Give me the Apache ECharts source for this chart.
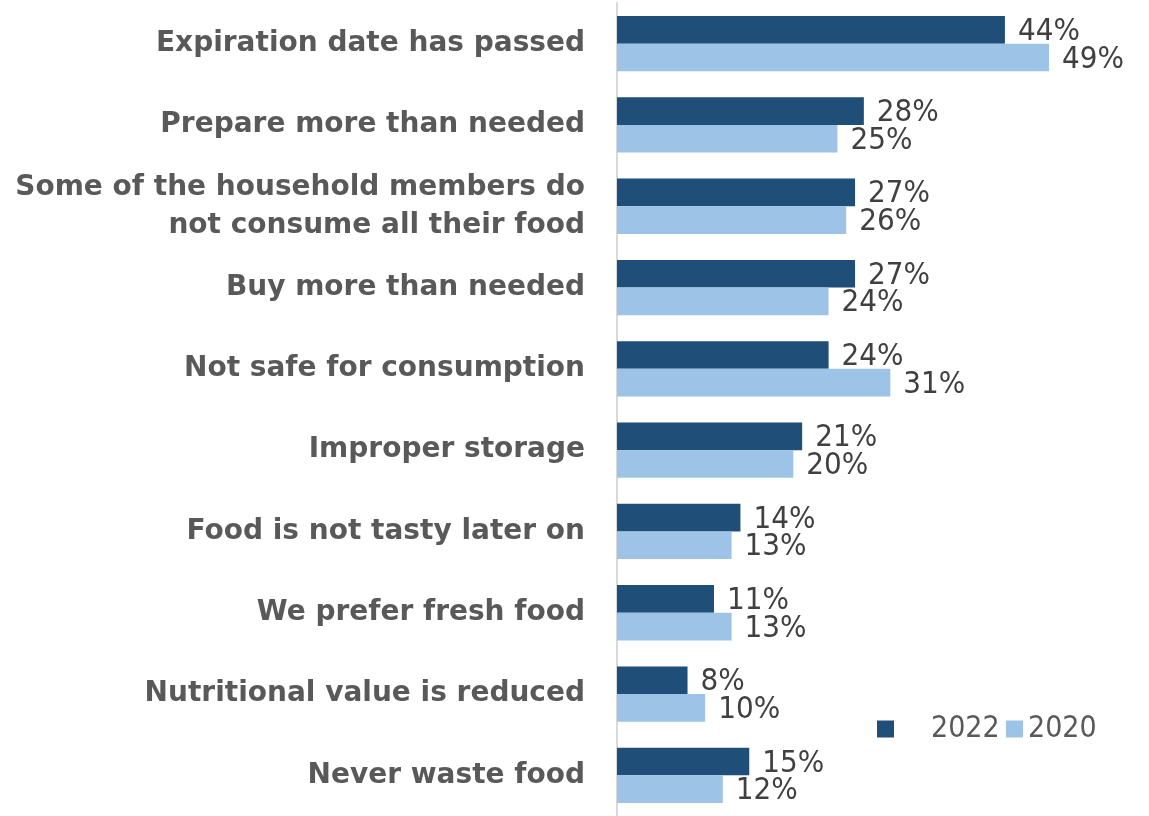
<!DOCTYPE html>
<html>
<head>
<meta charset="utf-8">
<script src="https://cdn.jsdelivr.net/npm/echarts@6/dist/echarts.min.js"></script>
<style>
  html, body { margin: 0; padding: 0; background: #ffffff; }
  #chart { width: 1149px; height: 816px; }
</style>
</head>
<body>
<div id="chart"></div>
<script>
// Reasons for throwing food away, share of households (%)
const categories = [
  'Expiration date has passed',
  'Prepare more than needed',
  'Some of the household members do\nnot consume all their food',
  'Buy more than needed',
  'Not safe for consumption',
  'Improper storage',
  'Food is not tasty later on',
  'We prefer fresh food',
  'Nutritional value is reduced',
  'Never waste food'
];
const values2022 = [44, 28, 27, 27, 24, 21, 14, 11, 8, 15];
const values2020 = [49, 25, 26, 24, 31, 20, 13, 13, 10, 12];
const seriesNames = ['2022', '2020'];

const DARK = '#1F4E79';
const LIGHT = '#9DC3E6';
const valueFont = 'DejaVu Sans Condensed';

const chart = echarts.init(document.getElementById('chart'), null, { renderer: 'canvas' });

const barLabel = {
  show: true,
  position: 'right',
  distance: 13,
  offset: [0, 2],
  formatter: p => p.value + '%',
  fontFamily: valueFont,
  fontSize: 31,
  color: '#404040'
};

const legendBase = {
  top: 714,
  padding: 0,
  itemWidth: 17,
  itemHeight: 17,
  icon: 'rect'
};

chart.setOption({
  animation: false,
  backgroundColor: '#ffffff',
  grid: { left: 617, top: 3, width: 529, height: 820, containLabel: false },
  xAxis: {
    type: 'value',
    min: 0,
    max: 60,
    show: false
  },
  yAxis: {
    type: 'category',
    data: categories,
    inverse: true,
    axisLine: { show: true, lineStyle: { color: '#D9D9D9', width: 2 } },
    axisTick: { show: false },
    splitLine: { show: false },
    axisLabel: {
      margin: 32,
      fontFamily: 'DejaVu Sans',
      fontWeight: 'bold',
      fontSize: 28,
      lineHeight: 38,
      color: '#595959',
      align: 'right'
    }
  },
  legend: [
    Object.assign({}, legendBase, {
      data: [seriesNames[0]],
      left: 877,
      itemGap: 0,
      textStyle: { fontFamily: valueFont, fontSize: 30, color: '#595959', padding: [0, 0, 0, 32] }
    }),
    Object.assign({}, legendBase, {
      data: [seriesNames[1]],
      left: 1006,
      textStyle: { fontFamily: valueFont, fontSize: 30, color: '#595959' }
    })
  ],
  series: [
    {
      name: seriesNames[0],
      type: 'bar',
      data: values2022,
      barGap: '0%',
      barCategoryGap: '32%',
      itemStyle: { color: DARK },
      label: barLabel
    },
    {
      name: seriesNames[1],
      type: 'bar',
      data: values2020,
      itemStyle: { color: LIGHT },
      label: barLabel
    }
  ]
});
</script>
</body>
</html>
